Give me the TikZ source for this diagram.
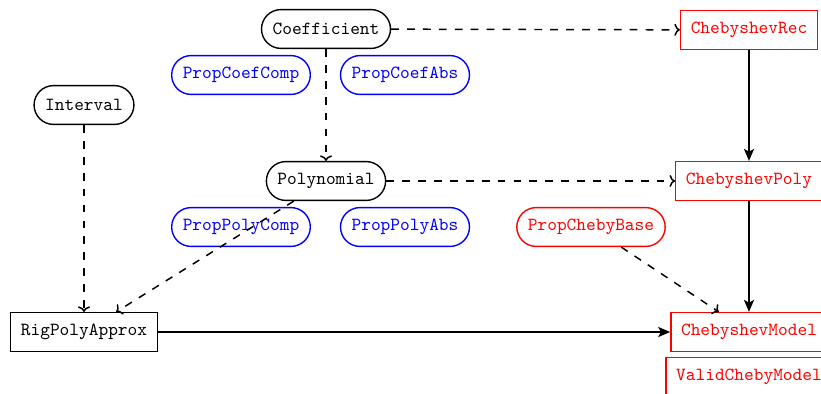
\documentclass[tikz,border=0pt]{standalone}
\usetikzlibrary{arrows.meta}
\begin{document}
\begin{tikzpicture}[x=0.5408pt,y=-0.5408pt,
  every node/.style={font=\ttfamily, minimum height=21pt, line width=0.75pt},
  pill/.style={draw, rounded corners=10.5pt, inner xsep=6pt},
  boxed/.style={draw, rectangle, inner xsep=5.5pt},
  blk/.style={black},
  blu/.style={blue},
  rd/.style={red},
  dep/.style={line width=0.8pt, dash pattern=on 4.2pt off 4.4pt, -{To[length=3pt,width=6.5pt]}},
  link/.style={line width=0.8pt, -{Stealth[length=6.5pt,width=5.5pt,inset=1.5pt]}}]
\clip (0,0) rectangle (821,394);

% core modules
\node[pill,blk] (coef) at (326,29) {Coefficient};
\node[pill,blk] (interval) at (84,105) {Interval};
\node[pill,blk] (poly) at (326,181) {Polynomial};
\node[boxed,blk] (rig) at (84,332) {RigPolyApprox};

% property modules
\node[pill,blu] (pcc) at (241,75) {PropCoefComp};
\node[pill,blu] (pca) at (405,75) {PropCoefAbs};
\node[pill,blu] (ppc) at (241,227) {PropPolyComp};
\node[pill,blu] (ppa) at (405,227) {PropPolyAbs};

% Chebyshev modules
\node[boxed,rd] (crec) at (749,30) {ChebyshevRec};
\node[boxed,rd] (cpoly) at (749,181) {ChebyshevPoly};
\node[pill,rd] (pcb) at (591,227) {PropChebyBase};
\node[boxed,rd] (cmodel) at (749,332) {ChebyshevModel};
\node[boxed,rd] (valid) at (749,377) {ValidChebyModel};

% dependencies
\draw[dep] (coef) -- (crec);
\draw[dep] (coef) -- (poly);
\draw[dep] (interval) -- (rig);
\draw[dep] (poly) -- (rig);
\draw[dep] (poly) -- (cpoly);
\draw[dep] (pcb) -- (cmodel);
\draw[link] (crec) -- (cpoly);
\draw[link] (cpoly) -- (cmodel);
\draw[link] (rig) -- (cmodel);
\end{tikzpicture}
\end{document}
